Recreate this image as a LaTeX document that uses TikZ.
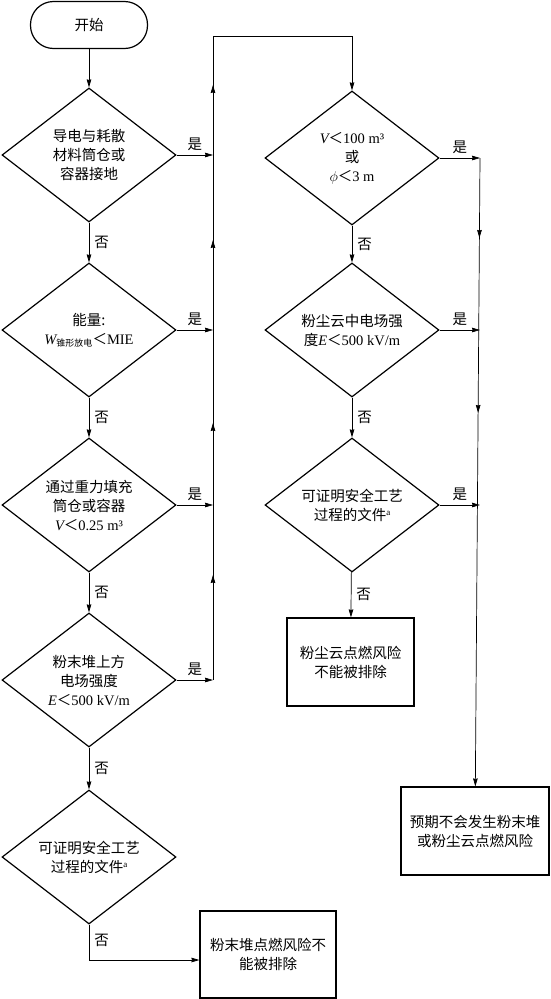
\documentclass[tikz,border=0pt]{standalone}
\usepackage{fontspec}
\setmainfont{Liberation Serif}
\newfontfamily\cjk{Noto Sans CJK SC}
\newfontfamily\latf{Liberation Serif}
\usetikzlibrary{shapes.geometric,arrows.meta,decorations.markings}
\newcommand\cjkfs{\cjk\fontsize{14.5}{19}\selectfont}
\newcommand\lt{{\cjk ＜}}
\newcommand\supa{\raisebox{5pt}{\latf\fontsize{9}{9}\selectfont a}}
\begin{document}
\begin{tikzpicture}[x=1pt,y=-1pt,
  tip/.tip={Stealth[length=8pt,width=4.6pt,inset=0.6pt]},
  dia/.style={draw,line width=1.2pt,shape=diamond,shape aspect=1.3,minimum width=174pt,minimum height=134pt,inner sep=0pt,align=center,font=\cjkfs},
  boxn/.style={draw,line width=1.2pt,rectangle,inner sep=0pt,align=center,font=\cjkfs},
  conn/.style={draw,line width=0.7pt,-tip},
  lbl/.style={font=\cjkfs,inner sep=2pt},
  midarrows/.style 2 args={postaction={decorate},decoration={markings,
     mark=at position #1 with {\arrow{tip}},
     mark=at position #2 with {\arrow{tip}}}},
]
\useasboundingbox (0,0) rectangle (551,999);

% start
\node[draw,line width=1.2pt,rectangle,rounded corners=23pt,minimum width=117pt,minimum height=47pt,font=\cjkfs] (start) at (89,25) {开始};

% left column
\node[dia] (d1) at (89,155) {导电与耗散\\材料筒仓或\\容器接地};
\node[dia] (d2) at (89,330) {能量:\\{\latf\itshape W}\raisebox{-2pt}{\fontsize{9}{9}\selectfont 锥形放电}\lt{\latf MIE}};
\node[dia] (d3) at (89,505) {通过重力填充\\筒仓或容器\\{\latf\itshape V}\lt{\latf 0.25 m³}};
\node[dia] (d4) at (89,680) {粉末堆上方\\电场强度\\{\latf\itshape E}\lt{\latf 500 kV/m}};
\node[dia] (d5) at (89,857) {可证明安全工艺\\过程的文件\supa};
\node[boxn,minimum width=136pt,minimum height=87pt] (b1) at (268,954.5) {粉末堆点燃风险不\\能被排除};

% right column
\node[dia] (d6) at (352,158) {{\latf\itshape V}\lt{\latf 100 m³}\\或\\$\phi$\lt{\latf 3 m}};
\node[dia] (d7) at (352,330) {粉尘云中电场强\\度{\latf\itshape E}\lt{\latf 500 kV/m}};
\node[dia] (d8) at (352,505) {可证明安全工艺\\过程的文件\supa};
\node[boxn,minimum width=127pt,minimum height=88pt] (b2) at (350.5,662) {粉尘云点燃风险\\不能被排除};
\node[boxn,minimum width=148pt,minimum height=88pt] (b3) at (475,831) {预期不会发生粉末堆\\或粉尘云点燃风险};

% junctions
\coordinate (jl1) at (213,155);
\coordinate (jl2) at (213,330);
\coordinate (jl3) at (213,505);
\coordinate (jl4) at (213,680);
\coordinate (tl) at (213,36);
\coordinate (tr) at (352,36);
\coordinate (jr1) at (480,158);
\coordinate (jr2) at (480,330);
\coordinate (jr3) at (480,505);
\coordinate (c5) at (89,960);

% down flow left
\draw[conn] (start) -- (d1);
\draw[conn] (d1) -- node[lbl,right=3pt]{否} (d2);
\draw[conn] (d2) -- node[lbl,right=3pt]{否} (d3);
\draw[conn] (d3) -- node[lbl,right=3pt]{否} (d4);
\draw[conn] (d4) -- node[lbl,right=3pt]{否} (d5);
\draw[line width=0.7pt] (d5) -- node[lbl,right=3pt,pos=0.45]{否} (c5);
\draw[conn] (c5) -- (c5 -| b1.west);

% yes branches left
\draw[conn] (d1) -- node[lbl,above=2pt]{是} (jl1);
\draw[conn] (d2) -- node[lbl,above=2pt]{是} (jl2);
\draw[conn] (d3) -- node[lbl,above=2pt]{是} (jl3);
\draw[conn] (d4) -- node[lbl,above=2pt]{是} (jl4);

% riser
\draw[conn,postaction={decorate},decoration={markings,
   mark=at position 105pt with {\arrow{tip}},
   mark=at position 257pt with {\arrow{tip}},
   mark=at position 440pt with {\arrow{tip}},
   mark=at position 595pt with {\arrow{tip}}}]
   (jl4) -- (tl) -- (tr) -- (d6);

% right column flow
\draw[conn] (d6) -- node[lbl,right=3pt]{否} (d7);
\draw[conn] (d7) -- node[lbl,right=3pt]{否} (d8);
\draw[conn] (d8) -- node[lbl,right=3pt]{否} (b2);

\draw[conn] (d6) -- node[lbl,above=2pt]{是} (jr1);
\draw[conn] (d7) -- node[lbl,above=2pt]{是} (jr2);
\draw[conn] (d8) -- node[lbl,above=2pt]{是} (jr3);

\draw[conn,midarrows={80pt}{255pt}] (jr1) -- (b3);
\end{tikzpicture}
\end{document}
